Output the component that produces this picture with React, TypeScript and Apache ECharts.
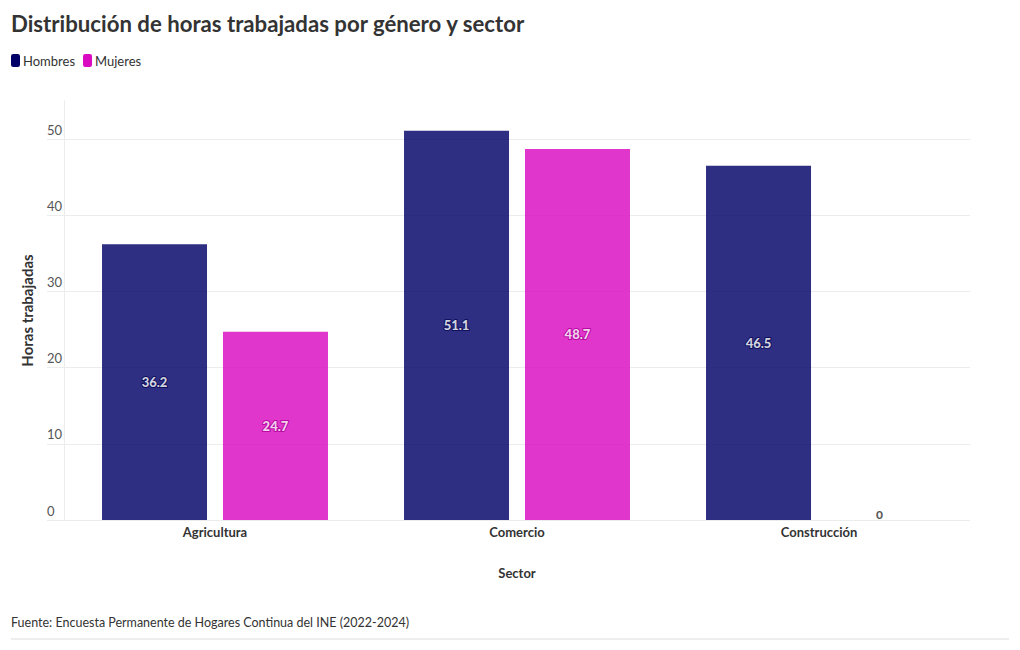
import React, { useEffect, useRef } from "react";
import * as echarts from "echarts";

const categories = ["Agricultura", "Comercio", "Construcción"];
const hombres = [36.2, 51.1, 46.5];
const mujeres = [24.7, 48.7, 0];
const yTicks = [0, 10, 20, 30, 40, 50];

const FONT = "Lato, 'Noto Sans', sans-serif";

export default function App() {
  const ref = useRef<HTMLDivElement>(null);
  useEffect(() => {
    if (!ref.current) return;
    const chart = echarts.init(ref.current, null, { renderer: "svg" });
    const labelBase = {
      show: true,
      position: "inside",
      color: "#fff",
      fontWeight: 900,
      fontSize: 13,
      fontFamily: FONT,
      textBorderWidth: 2,
    };
    chart.setOption({
      animation: false,
      textStyle: { fontFamily: FONT },
      title: [
        {
          text: "Distribución de horas trabajadas por género y sector",
          left: 11,
          top: 12,
          padding: 0,
          textStyle: { fontSize: 22.2, fontWeight: "bold", color: "#333", fontFamily: FONT },
        },
        {
          text: "Fuente: Encuesta Permanente de Hogares Continua del INE (2022-2024)",
          left: 11,
          top: 616,
          padding: 0,
          textStyle: { fontSize: 12.5, fontWeight: "normal", color: "#333", fontFamily: FONT },
        },
      ],
      legend: {
        left: 11,
        top: 54,
        padding: 0,
        icon: "roundRect",
        itemWidth: 9,
        itemHeight: 13,
        itemGap: 8,
        textStyle: { fontSize: 13, color: "#333", fontFamily: FONT, padding: [0, 0, 0, -2] },
        data: [
          { name: "Hombres", itemStyle: { color: "#000066", opacity: 1 } },
          { name: "Mujeres", itemStyle: { color: "#d90ac0", opacity: 1 } },
        ],
      },
      grid: [
        { left: 64, right: 50, top: 101, bottom: 130 },
        { left: 64, right: 50, top: 139, bottom: 130 },
      ],
      xAxis: [
        {
          type: "category",
          gridIndex: 0,
          data: categories,
          axisLine: { show: false },
          axisTick: { show: false },
          axisLabel: { color: "#333", fontWeight: "bold", fontSize: 13, margin: 5, fontFamily: FONT },
          name: "Sector",
          nameLocation: "middle",
          nameGap: 46,
          nameTextStyle: { color: "#333", fontWeight: "bold", fontSize: 13, fontFamily: FONT },
        },
        { type: "category", gridIndex: 1, data: categories, show: false },
      ],
      yAxis: [
        {
          type: "value",
          gridIndex: 0,
          min: 0,
          max: 55,
          interval: 5,
          axisLine: { show: true, lineStyle: { color: "#ececec" } },
          axisTick: { show: false },
          axisLabel: { show: false },
          splitLine: { show: false },
          name: "Horas trabajadas",
          nameLocation: "middle",
          nameGap: 30,
          nameTextStyle: { color: "#333", fontWeight: "bold", fontSize: 15, fontFamily: FONT },
        },
        {
          type: "value",
          gridIndex: 1,
          min: yTicks[0],
          max: yTicks[yTicks.length - 1],
          interval: 10,
          axisLine: { show: false },
          axisTick: { show: true, length: 17, lineStyle: { color: "#ececec" } },
          axisLabel: {
            color: "#555",
            fontSize: 13,
            align: "left",
            verticalAlign: "bottom",
            margin: 17,
            padding: [0, 0, 3, 0],
            fontFamily: FONT,
          },
          splitLine: { show: true, lineStyle: { color: "#ececec" } },
        },
      ],
      series: [
        {
          name: "Hombres",
          type: "bar",
          xAxisIndex: 0,
          yAxisIndex: 0,
          data: hombres,
          barWidth: 105,
          barGap: "15.2%",
          itemStyle: { color: "#000066", opacity: 0.82 },
          label: { ...labelBase, textBorderColor: "#0a0a55" },
        },
        {
          name: "Mujeres",
          type: "bar",
          xAxisIndex: 0,
          yAxisIndex: 0,
          barWidth: 105,
          data: mujeres.map((v) =>
            v === 0
              ? {
                  value: v,
                  label: { position: "top", color: "#333", textBorderWidth: 0, distance: 0, fontSize: 12 },
                }
              : v
          ),
          itemStyle: { color: "#d90ac0", opacity: 0.82 },
          label: { ...labelBase, textBorderColor: "#b0009a" },
        },
      ],
      graphic: [
        {
          type: "line",
          shape: { x1: 11, y1: 639, x2: 1009, y2: 639 },
          style: { stroke: "#dddddd", lineWidth: 1 },
        },
      ],
    });
    return () => chart.dispose();
  }, []);
  return <div ref={ref} style={{ width: 1020, height: 650, position: "absolute", left: 0, top: 0 }} />;
}
